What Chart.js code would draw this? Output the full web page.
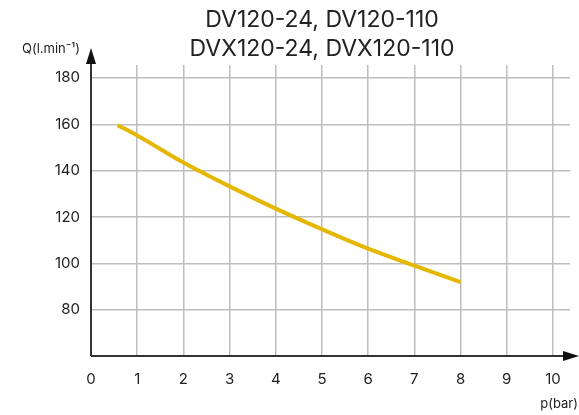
<!DOCTYPE html>
<html><head><meta charset="utf-8">
<script src="https://cdn.jsdelivr.net/npm/chart.js@4/dist/chart.umd.min.js"></script>
<style>html,body{margin:0;padding:0;background:#fff}#w{width:579px;height:415px}</style>
</head><body><div id="w"><canvas id="c"></canvas></div>
<script>
const titleLines = ["DV120-24, DV120-110", "DVX120-24, DVX120-110"];
const yAxisTitle = "Q(l.min\u207B\u00B9)";
const xAxisTitle = "p(bar)";
const pressure = [0.58, 1, 2, 3, 4, 5, 6, 7, 8];
const flow = [159.6, 155.2, 143.5, 133.2, 123.6, 114.7, 106.3, 99.0, 91.9];
const xTicks = [0, 1, 2, 3, 4, 5, 6, 7, 8, 9, 10];
const yTicks = [80, 100, 120, 140, 160, 180];

const FONT = "Inter, 'DejaVu Sans', sans-serif";
const TXT = "#222";

const decor = {
  id: 'decor',
  afterDraw(chart) {
    const {ctx, chartArea: a} = chart;
    ctx.save();
    // axes
    ctx.strokeStyle = "#333"; ctx.fillStyle = "#111"; ctx.lineWidth = 2;
    ctx.beginPath();
    ctx.moveTo(a.left, a.bottom); ctx.lineTo(a.right + 2, a.bottom);
    ctx.moveTo(a.left, a.bottom); ctx.lineTo(a.left, a.top - 2);
    ctx.stroke();
    // arrows
    ctx.beginPath();
    ctx.moveTo(a.left, a.top - 17); ctx.lineTo(a.left - 5, a.top - 1); ctx.lineTo(a.left + 5, a.top - 1); ctx.closePath(); ctx.fill();
    ctx.beginPath();
    ctx.moveTo(a.right + 9, a.bottom); ctx.lineTo(a.right - 7, a.bottom - 5); ctx.lineTo(a.right - 7, a.bottom + 5); ctx.closePath(); ctx.fill();
    // titles
    ctx.fillStyle = TXT;
    ctx.textAlign = "center"; ctx.textBaseline = "alphabetic";
    ctx.font = "23px " + FONT;
    ctx.fillText(titleLines[0], 322, 27);
    ctx.fillText(titleLines[1], 322, 56);
    ctx.font = "13px " + FONT;
    ctx.textAlign = "left";
    ctx.fillText(yAxisTitle, 22, 53);
    ctx.textAlign = "right";
    ctx.fillText(xAxisTitle, 578, 408);
    ctx.restore();
  }
};

new Chart(document.getElementById('c'), {
  type: 'line',
  data: {
    datasets: [{
      data: pressure.map((p, i) => ({x: p, y: flow[i]})),
      borderColor: '#E5B700',
      borderWidth: 4,
      pointRadius: 0,
      cubicInterpolationMode: 'monotone',
      fill: false
    }]
  },
  options: {
    responsive: true,
    maintainAspectRatio: false,
    animation: false,
    layout: {padding: {top: 65, right: 9, left: 0, bottom: 0}},
    plugins: {legend: {display: false}, tooltip: {enabled: false}},
    scales: {
      x: {
        type: 'linear', min: 0, max: 10.37,
        afterBuildTicks(s) { s.ticks = xTicks.map(v => ({value: v})); },
        afterFit(s) { s.height = 59; },
        grid: {color: '#bdbdbd', lineWidth: 1.5, drawTicks: false},
        border: {display: false},
        ticks: {color: TXT, font: {family: FONT, size: 15}, padding: 14, maxRotation: 0, autoSkip: false}
      },
      y: {
        type: 'linear', min: 60, max: 185.6,
        afterBuildTicks(s) { s.ticks = yTicks.map(v => ({value: v})); },
        afterFit(s) { s.width = 91; },
        grid: {color: '#bdbdbd', lineWidth: 1.5, drawTicks: false},
        border: {display: false},
        ticks: {color: TXT, font: {family: FONT, size: 15}, padding: 11}
      }
    }
  },
  plugins: [decor]
});
</script></body></html>
